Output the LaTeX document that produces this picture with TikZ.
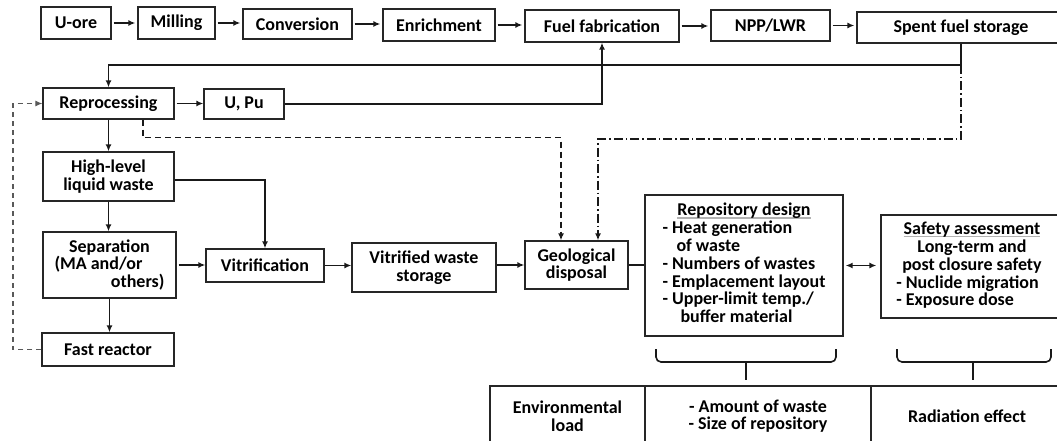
\documentclass[tikz,border=0pt]{standalone}
\usepackage{fontspec}
\setmainfont{Carlito}
\usetikzlibrary{arrows.meta}
\newcommand\hdrline[1]{\setbox0=\hbox{#1}\rlap{\textcolor{black!30}{\rule[-3pt]{\wd0}{1.6pt}}}\box0}
\begin{document}
\begin{tikzpicture}[x=1pt,y=-1pt,
  box/.style={draw=black!85, line width=1.3pt, inner sep=0pt, align=center, fill=white,
    font=\bfseries\fontsize{18}{17.5}\selectfont},
  ln/.style={line width=1.6pt, draw=black!90},
  arr/.style={ln, -{Latex[length=7pt,width=6pt]}},
  dsh/.style={ln, dash pattern=on 6pt off 4pt, -{Latex[length=7pt,width=6pt]}},
  dshdot/.style={ln, dash pattern=on 9pt off 3pt on 1.5pt off 3pt, -{Latex[length=7pt,width=6pt]}},
  fdsh/.style={line width=1.1pt, draw=black!65, dash pattern=on 5pt off 4pt, -{Latex[length=7pt,width=6pt]}},
]
\useasboundingbox (0,0) rectangle (1057,441);
\fill[white] (0,0) rectangle (1057,441);
\clip (0,0) rectangle (1057,441);

% top row
\node[box, minimum width=70pt, minimum height=32pt] (uore) at (76,23) {U-ore};
\node[box, minimum width=77pt, minimum height=32pt] (milling) at (176.5,23) {Milling};
\node[box, minimum width=109pt, minimum height=30pt] (conv) at (297.5,24) {Conversion};
\node[box, minimum width=112pt, minimum height=32pt] (enr) at (439,25) {Enrichment};
\node[box, minimum width=154pt, minimum height=32pt] (fuelfab) at (602,26) {Fuel fabrication};
\node[box, minimum width=119pt, minimum height=31pt] (npp) at (770.5,25.5) {NPP/LWR};
\node[box, minimum width=208pt, minimum height=31pt] (spent) at (961,27.5) {Spent fuel storage};

\draw[arr, shorten <=2pt, shorten >=2pt] (uore.east) -- (uore.east -| milling.west);
\draw[arr, shorten <=2pt, shorten >=2pt] (milling.east) -- (milling.east -| conv.west);
\draw[arr, shorten <=2pt, shorten >=2pt] (conv.east) -- (conv.east -| enr.west);
\draw[arr, shorten <=2pt, shorten >=2pt] (enr.east) -- (enr.east -| fuelfab.west);
\draw[arr, shorten <=2pt, shorten >=2pt] (fuelfab.east) -- (fuelfab.east -| npp.west);
\draw[arr, shorten <=2pt, shorten >=2pt] (npp.east) -- (npp.east -| spent.west);

% left column
\node[box, minimum width=131pt, minimum height=31pt] (repro) at (108.5,103.5) {Reprocessing};
\node[box, minimum width=80pt, minimum height=30pt] (upu) at (244,104) {U, Pu};
\node[box, minimum width=131pt, minimum height=49pt] (hlw) at (108.5,176.5) {High-level\\liquid waste};
\node[box, minimum width=133pt, minimum height=66pt] (sep) at (109.5,265) {\makebox[110pt][c]{Separation}\\\makebox[110pt][l]{(MA and/or}\\\makebox[110pt][r]{others)}};
\node[box, minimum width=132pt, minimum height=33pt] (fast) at (108,349.5) {Fast reactor};
\node[box, minimum width=118pt, minimum height=33pt] (vitr) at (265,265.5) {Vitrification};
\node[box, minimum width=144pt, minimum height=49pt] (vws) at (424,267.5) {Vitrified waste\\storage};
\node[box, minimum width=103pt, minimum height=48pt] (geo) at (576.5,265) {Geological\\disposal};

\node[box, minimum width=198pt, minimum height=141pt] (repo) at (744,265.5) {\begin{tabular}{@{}l@{}}
\multicolumn{1}{c}{\hdrline{Repository design}}\\
- Heat generation\\
\hspace*{14pt}of waste\\
- Numbers of wastes\\
- Emplacement layout\\
- Upper-limit temp./\\
\hspace*{18pt}buffer material
\end{tabular}};

\node[box, minimum width=182pt, minimum height=103pt] (safety) at (972,266.5) {\begin{tabular}{@{}l@{}}
\multicolumn{1}{c}{\hdrline{Safety assessment}}\\
\multicolumn{1}{c}{Long-term and}\\
\multicolumn{1}{c}{post closure safety}\\
- Nuclide migration\\
- Exposure dose
\end{tabular}};

% connectors
\coordinate (loop) at (961,65);
\coordinate (dd) at (961,139);
\coordinate (fr) at (13,349.5);
\draw[ln] (spent.south) -- (loop);
\draw[arr] (loop) -| (repro.north);
\draw[arr, shorten <=2pt] (repro.east) -- (repro.east -| upu.west);
\draw[arr] (upu.east) -| (fuelfab.south);
\draw[dsh] ([xshift=34.5pt]repro.south) -- ++(0,18) -| ([xshift=-15.5pt]geo.north);
\draw[dshdot] (loop) -- (dd) -| ([xshift=21.5pt]geo.north);
\draw[arr] (repro) -- (hlw);
\draw[arr] ([yshift=-3.5pt]hlw.east) -| (vitr.north);
\draw[arr] (hlw.south) -- (hlw.south |- sep.north);
\draw[arr, shorten <=2pt] (sep.east) -- (sep.east -| vitr.west);
\draw[arr] (sep.south) -- (sep.south |- fast.north);
\draw[arr] (vitr.east) -- (vitr.east -| vws.west);
\draw[arr] (geo.west -| vws.east) -- (geo.west);
\draw[ln] (geo.east) -- (geo.east -| repo.west);
\draw[ln, {Latex[length=7pt,width=6pt]}-{Latex[length=7pt,width=6pt]}, shorten <=2pt, shorten >=4pt] (repo.east) -- (repo.east -| safety.west);
\draw[fdsh] (fast.west) -- (fr) |- (repro.west);

% braces
\draw[ln, rounded corners=5pt] (656,349) |- (746,362) -| (836,349);
\draw[ln] (746,362) -- (746,380);
\draw[ln, rounded corners=5pt] (897,349) |- (973,362) -| (1051,349);
\draw[ln] (973,362) -- (973,380);

% table
\node[box, minimum width=155pt, minimum height=60pt] (env) at (567.5,416) {Environmental\\load};
\node[box, minimum width=226pt, minimum height=60pt] (amt) at (758,416) {- Amount of waste\\- Size of repository};
\node[box, minimum width=192pt, minimum height=60pt] (rad) at (967,416) {Radiation effect};
\end{tikzpicture}
\end{document}
